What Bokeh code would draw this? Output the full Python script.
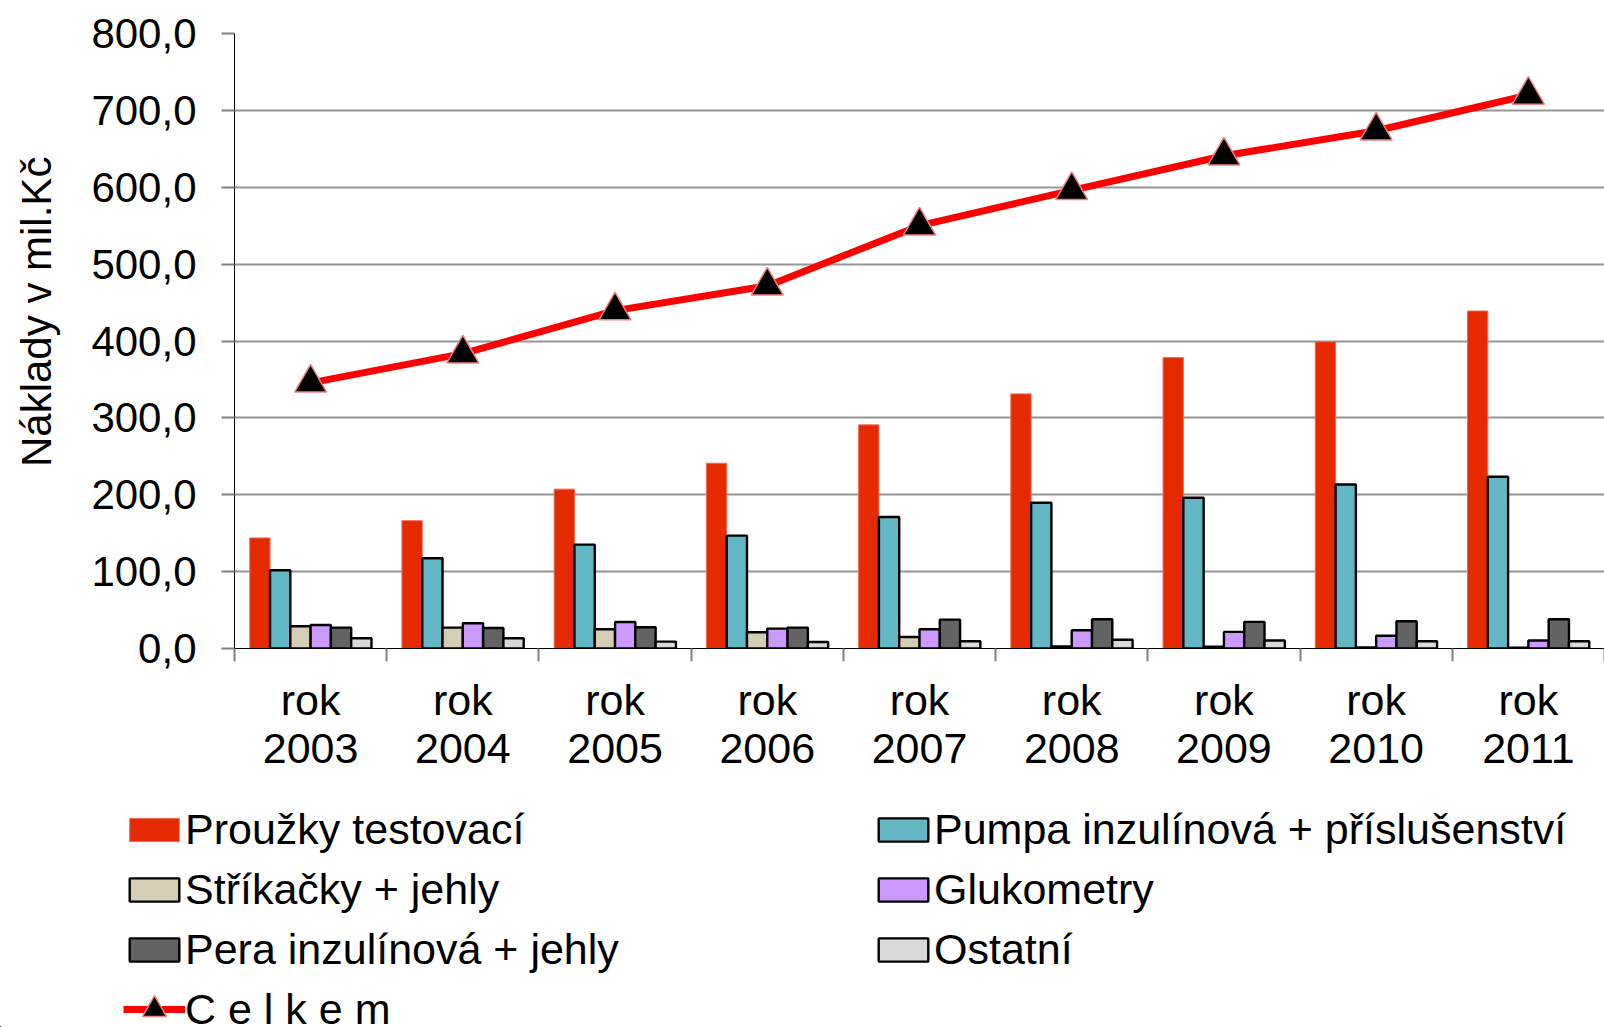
from bokeh.plotting import figure
from bokeh.layouts import column
from bokeh.models import Range1d, FixedTicker, Legend, LegendItem
from bokeh.embed import file_html
from bokeh.resources import INLINE

# ---- data ----
years = ["2003", "2004", "2005", "2006", "2007", "2008", "2009", "2010", "2011"]
x_labels = ["rok\n" + y for y in years]
prouzky = [143.8, 166.2, 207.3, 241.0, 290.9, 331.2, 378.4, 399.1, 439.0]
pumpa = [101.8, 117.4, 135.1, 146.8, 171.0, 189.5, 196.1, 213.4, 223.4]
strikacky = [28.9, 27.2, 25.0, 21.1, 15.0, 2.6, 2.2, 1.3, 0.9]
glukometry = [30.6, 32.8, 34.5, 25.9, 25.0, 23.7, 21.6, 16.5, 10.4]
pera = [27.2, 26.7, 27.6, 27.2, 37.6, 38.1, 34.6, 35.5, 38.1]
ostatni = [13.3, 13.3, 9.0, 8.5, 9.5, 11.3, 10.4, 9.5, 9.5]
celkem = [345.6, 383.5, 439.5, 471.7, 550.0, 596.0, 641.0, 673.5, 720.0]
series_names = ["Proužky testovací", "Pumpa inzulínová + příslušenství",
                "Stříkačky + jehly", "Glukometry", "Pera inzulínová + jehly", "Ostatní"]
total_name = "C e l k e m"
y_ticks = [0, 100, 200, 300, 400, 500, 600, 700, 800]
y_tick_labels = ["0,0", "100,0", "200,0", "300,0", "400,0", "500,0", "600,0", "700,0", "800,0"]
y_title = "Náklady v mil.Kč"

series_values = [prouzky, pumpa, strikacky, glukometry, pera, ostatni]
fill_colors = ["#E52A00", "#63B6C4", "#D6CDB7", "#CC99FF", "#636363", "#D9D9D9"]
line_colors = ["#F06A50", "black", "black", "black", "black", "black"]
line_widths = [1, 2.4, 2.4, 2.4, 2.4, 2.4]
LINE_COLOR = "#FF0000"
MARKER_EDGE = "#F08080"

FONT = "Liberation Sans"
W = 1604
H_MAIN = 775
H_LEG = 1027 - H_MAIN

p = figure(width=W, height=H_MAIN, output_backend="svg", toolbar_location=None,
           x_range=Range1d(0, 9), y_range=Range1d(0, 800),
           min_border_left=234, min_border_right=0, min_border_top=33,
           min_border_bottom=H_MAIN - 648)
p.outline_line_color = None
p.background_fill_color = "white"
p.border_fill_color = "white"

# y axis
yax = p.yaxis[0]
yax.ticker = FixedTicker(ticks=y_ticks)
yax.major_label_overrides = {t: l for t, l in zip(y_ticks, y_tick_labels)}
yax.major_label_text_font = FONT
yax.major_label_text_font_size = "42px"
yax.major_label_text_color = "black"
yax.major_tick_out = 13
yax.major_tick_in = 0
yax.major_tick_line_color = "#808080"
yax.major_tick_line_width = 2
yax.minor_tick_line_color = None
yax.axis_line_color = "black"
yax.axis_line_width = 1
yax.major_label_standoff = 25
# leading no-break spaces move the centred title up, as in the original
yax.axis_label = "\u00a0" * 5 + y_title
yax.axis_label_text_font = FONT
yax.axis_label_text_font_size = "42px"
yax.axis_label_text_font_style = "normal"
yax.axis_label_text_color = "black"
yax.axis_label_standoff = 28

p.xgrid.visible = False
p.ygrid.ticker = FixedTicker(ticks=y_ticks)
p.ygrid.grid_line_color = "#969696"
p.ygrid.grid_line_width = 2

# x axis: labels at group centres, tick marks (minor) at group boundaries
centers = [i + 0.5 for i in range(len(years))]
bounds = list(range(len(years) + 1))
xax = p.xaxis[0]
xax.ticker = FixedTicker(ticks=centers, minor_ticks=bounds)
xax.major_label_overrides = {c: l for c, l in zip(centers, x_labels)}
xax.major_label_text_font = FONT
xax.major_label_text_font_size = "43px"
xax.major_label_text_color = "black"
xax.major_label_text_line_height = 1.02
xax.major_label_standoff = 14
xax.major_tick_out = 13
xax.major_tick_in = 0
xax.major_tick_line_color = None
xax.minor_tick_out = 13
xax.minor_tick_in = 0
xax.minor_tick_line_color = "#808080"
xax.minor_tick_line_width = 2
xax.axis_line_color = "black"
xax.axis_line_width = 1

# bars
w = 0.1333
for k, vals in enumerate(series_values):
    xs = [c + (k - 2.5) * w for c in centers]
    p.vbar(x=xs, top=vals, width=w, bottom=0,
           fill_color=fill_colors[k], line_color=line_colors[k],
           line_width=line_widths[k])

# total line
p.line(x=centers, y=celkem, line_color=LINE_COLOR, line_width=7)
p.scatter(x=centers, y=celkem, marker="triangle", size=32,
          fill_color="black", line_color=MARKER_EDGE, line_width=1.5)

# ---- legend panel (separate figure below the chart) ----
q = figure(width=W, height=H_LEG, output_backend="svg", toolbar_location=None,
           x_range=Range1d(0, 1), y_range=Range1d(0, 1),
           min_border_left=0, min_border_right=0, min_border_top=0,
           min_border_bottom=0, x_axis_location=None, y_axis_location=None)
try:
    q.frame_align = False
except Exception:
    pass
q.outline_line_color = None
q.xgrid.visible = False
q.ygrid.visible = False
q.background_fill_color = "white"
q.border_fill_color = "white"

# proxy renderers for the legend swatches (their data lie outside the view)
hx = [-5.0]
leg_r = []
for k in range(len(series_values)):
    leg_r.append(q.vbar(x=hx, bottom=[-5.0], top=[-4.0], width=0.1,
                        fill_color=fill_colors[k], line_color=line_colors[k],
                        line_width=line_widths[k]))
leg_line = q.line(x=hx * 2, y=[-5.0, -4.0], line_color=LINE_COLOR, line_width=7)
leg_mark = q.scatter(x=hx, y=[-5.0], marker="triangle", fill_color="black",
                     line_color=MARKER_EDGE, line_width=1.5)

def make_legend(items, loc, gh=29):
    return Legend(items=items, location=loc, orientation="vertical",
                  label_text_font=FONT, label_text_font_size="43px",
                  label_text_color="black", label_height=60,
                  glyph_height=gh, glyph_width=62, spacing=0, padding=0,
                  margin=0, label_standoff=0, border_line_color=None,
                  background_fill_alpha=0)

leg_left = make_legend([
    LegendItem(label=series_names[0], renderers=[leg_r[0]]),
    LegendItem(label=series_names[2], renderers=[leg_r[2]]),
    LegendItem(label=series_names[4], renderers=[leg_r[4]]),
], (123, 48))
leg_total = make_legend([
    LegendItem(label=total_name, renderers=[leg_line, leg_mark]),
], (123, -12), gh=60)
leg_right = make_legend([
    LegendItem(label=series_names[1], renderers=[leg_r[1]]),
    LegendItem(label=series_names[3], renderers=[leg_r[3]]),
    LegendItem(label=series_names[5], renderers=[leg_r[5]]),
], (872, 48))
q.add_layout(leg_left)
q.add_layout(leg_total)
q.add_layout(leg_right)

layout = column(p, q, spacing=0)
open("out.html", "w").write(file_html(layout, INLINE))
